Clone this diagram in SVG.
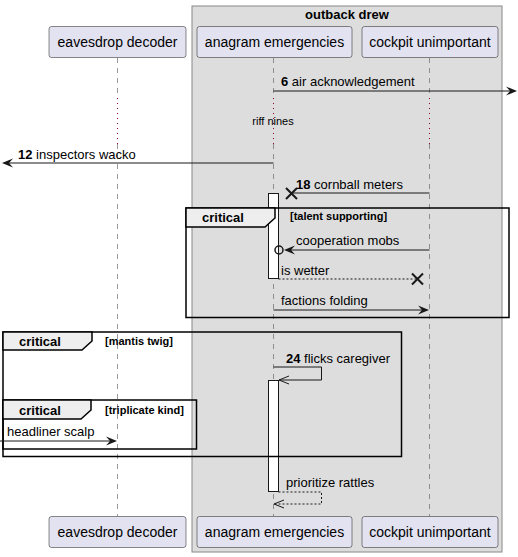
<svg xmlns="http://www.w3.org/2000/svg" width="518" height="557" viewBox="0 0 518 557">
<style>
text{font-family:"Liberation Sans",Arial,sans-serif;fill:#000}
.pname{font-size:14px;text-anchor:middle}
.part{fill:#E2E2F0;stroke:#181818;stroke-width:0.5}
.life{stroke:#555;stroke-width:0.6;stroke-dasharray:5,5}
.delay{stroke:#8B0030;stroke-width:1;stroke-dasharray:1,4}
.msg{font-size:13px}
.num{font-weight:bold}
.ln{stroke:#181818;stroke-width:1;fill:none}
.dash{stroke-dasharray:2,2}
.act{fill:#FFF;stroke:#181818;stroke-width:1}
.frame{fill:none;stroke:#000;stroke-width:1.5}
.tab{fill:#EEE;stroke:#000;stroke-width:1.5}
.glab{font-size:13px;font-weight:bold}
.gcond{font-size:11px;font-weight:bold}
.xm{stroke:#181818;stroke-width:2;fill:none}
</style>
<g id="box-outback-drew">
<rect x="192" y="6" width="310" height="546" fill="#DDDDDD" stroke="#888" stroke-width="1"/>
<text x="347" y="19" class="glab" text-anchor="middle">outback drew</text>
</g>
<g id="lifelines">
<line class="life" x1="117.5" y1="58" x2="117.5" y2="98"/>
<line class="delay" x1="117.5" y1="98" x2="117.5" y2="144"/>
<line class="life" x1="117.5" y1="144" x2="117.5" y2="516"/>
<line class="life" x1="273.5" y1="58" x2="273.5" y2="98"/>
<line class="delay" x1="273.5" y1="98" x2="273.5" y2="144"/>
<line class="life" x1="273.5" y1="144" x2="273.5" y2="516"/>
<line class="life" x1="429.5" y1="58" x2="429.5" y2="98"/>
<line class="delay" x1="429.5" y1="98" x2="429.5" y2="144"/>
<line class="life" x1="429.5" y1="144" x2="429.5" y2="516"/>
</g>
<g id="eavesdrop-decoder">
<rect class="part" x="49" y="26.5" width="137" height="31" rx="2.5"/>
<text class="pname" x="117.5" y="47">eavesdrop decoder</text>
<rect class="part" x="49" y="516.5" width="137" height="31" rx="2.5"/>
<text class="pname" x="117.5" y="537">eavesdrop decoder</text>
</g>
<g id="anagram-emergencies">
<rect class="part" x="197" y="26.5" width="155" height="31" rx="2.5"/>
<text class="pname" x="274.5" y="47">anagram emergencies</text>
<rect class="part" x="197" y="516.5" width="155" height="31" rx="2.5"/>
<text class="pname" x="274.5" y="537">anagram emergencies</text>
</g>
<g id="cockpit-unimportant">
<rect class="part" x="362" y="26.5" width="136" height="31" rx="2.5"/>
<text class="pname" x="430" y="47">cockpit unimportant</text>
<rect class="part" x="362" y="516.5" width="136" height="31" rx="2.5"/>
<text class="pname" x="430" y="537">cockpit unimportant</text>
</g>
<g id="activations">
<rect class="act" x="268.5" y="193.5" width="10" height="85"/>
<rect class="act" x="268.5" y="380.5" width="10" height="111"/>
</g>
<g id="group-talent-supporting">
<rect class="frame" x="186" y="208" width="323" height="109.5"/>
<polygon class="tab" points="186,208 275,208 275,218 265,227 186,227"/>
<text class="glab" x="202" y="222">critical</text>
<text class="gcond" x="290" y="220">[talent supporting]</text>
</g>
<g id="group-mantis-twig">
<rect class="frame" x="3" y="332" width="398.5" height="124.5"/>
<polygon class="tab" points="3,332 92,332 92,341 82,350 3,350"/>
<text class="glab" x="19" y="346">critical</text>
<text class="gcond" x="105" y="345">[mantis twig]</text>
</g>
<g id="group-triplicate-kind">
<rect class="frame" x="3" y="400" width="193.5" height="49"/>
<polygon class="tab" points="3,400 91,400 91,410 81,419 3,419"/>
<text class="glab" x="19" y="415">critical</text>
<text class="gcond" x="105" y="414">[triplicate kind]</text>
</g>
<g id="connectors">
<line class="ln" x1="273.5" y1="91" x2="515" y2="91"/>
<polygon points="517,91 506,86.5 510,91 506,95.5" fill="#181818"/>
<text class="msg" x="281" y="86"><tspan class="num">6</tspan> air acknowledgement</text>
<text x="273" y="125" font-size="11" text-anchor="middle">riff nines</text>
<line class="ln" x1="273.5" y1="163" x2="4" y2="163"/>
<polygon points="2,163 13,158.5 9,163 13,167.5" fill="#181818"/>
<text class="msg" x="18" y="159"><tspan class="num">12</tspan> inspectors wacko</text>
<line class="ln" x1="429.5" y1="193" x2="291" y2="193"/>
<path class="xm" d="M286,188 L297,199 M297,188 L286,199"/>
<text class="msg" x="296" y="189"><tspan class="num">18</tspan> cornball meters</text>
<line class="ln" x1="429.5" y1="250" x2="286" y2="250"/>
<polygon points="284,250 295,245.5 291,250 295,254.5" fill="#181818"/>
<circle cx="279" cy="250" r="4" fill="none" stroke="#181818" stroke-width="1.5"/>
<text class="msg" x="296" y="245">cooperation mobs</text>
<line class="ln dash" x1="278.5" y1="279" x2="418" y2="279"/>
<path class="xm" d="M412,273.5 L423,284.5 M423,273.5 L412,284.5"/>
<text class="msg" x="281" y="275">is wetter</text>
<line class="ln" x1="273.5" y1="310" x2="427" y2="310"/>
<polygon points="429,310 418,305.5 422,310 418,314.5" fill="#181818"/>
<text class="msg" x="281" y="305">factions folding</text>
<polyline class="ln" points="273.5,367 321.5,367 321.5,380 279,380"/>
<polyline class="ln" points="289,376 279,380 289,384"/>
<text class="msg" x="286" y="363"><tspan class="num">24</tspan> flicks caregiver</text>
<line class="ln" x1="0" y1="441" x2="115" y2="441"/>
<polygon points="117,441 106,436.5 110,441 106,445.5" fill="#181818"/>
<text class="msg" x="7" y="436">headliner scalp</text>
<polyline class="ln dash" points="278.5,492 321.5,492 321.5,504 274,504"/>
<polyline class="ln" points="284,500 274,504 284,508"/>
<text class="msg" x="286" y="487">prioritize rattles</text>
</g>
</svg>
